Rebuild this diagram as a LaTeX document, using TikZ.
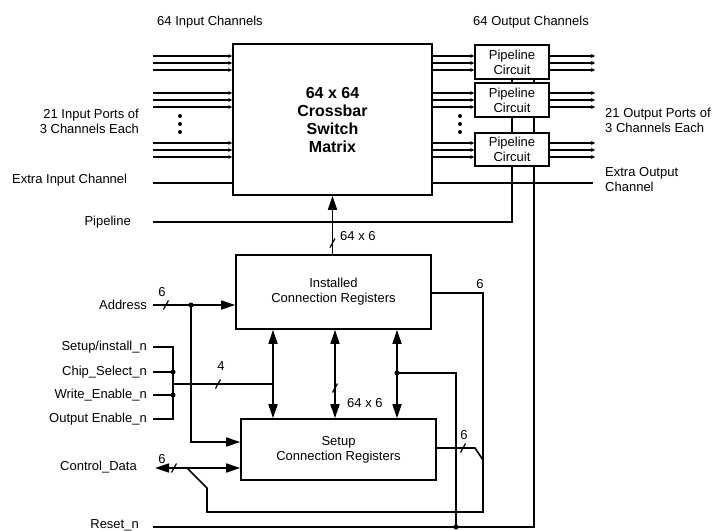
\documentclass[tikz,border=0pt]{standalone}
\usepackage{fontspec}
\setmainfont{Liberation Sans}
\usetikzlibrary{arrows.meta}
\tikzset{slashmark/.pic={\draw[line width=1.2pt] (-2.5,4.5) -- (2.5,-4.5);}}
\begin{document}
\begin{tikzpicture}[x=1pt,y=-1pt,
  every node/.style={font=\fontsize{13}{15}\selectfont, inner sep=0pt},
  box/.style={draw, line width=1.6pt, align=center},
  wire/.style={line width=1.6pt},
  chan/.style={line width=1.4pt, -{Stealth[length=4pt,width=4pt]}},
  bigarrow/.style={line width=1.6pt, -{Triangle[length=14pt,width=9pt]}},
  bothbig/.style={line width=1.6pt, {Triangle[length=14pt,width=9pt]}-{Triangle[length=14pt,width=9pt]}},
  jdot/.style={circle, fill, inner sep=0pt, minimum size=5pt},
  lbl/.style={align=left}
]
\useasboundingbox (0,0) rectangle (728,530);

% ---- blocks
\node[box, minimum width=199pt, minimum height=151pt, font=\bfseries\fontsize{16}{18}\selectfont] (cb) at (332.5,119.5) {64 x 64\\Crossbar\\Switch\\Matrix};
\node[box, minimum width=74pt, minimum height=34pt] (p1) at (512,62) {Pipeline\\Circuit};
\node[box, minimum width=74pt, minimum height=34pt] (p2) at (512,100) {Pipeline\\Circuit};
\node[box, minimum width=74pt, minimum height=33pt] (p3) at (512,149.5) {Pipeline\\Circuit};
\node[box, minimum width=195pt, minimum height=74pt] (inst) at (333.5,292) {Installed\\Connection Registers};
\node[box, minimum width=195pt, minimum height=61pt] (sreg) at (338.5,449.5) {Setup\\Connection Registers};

% ---- texts
\node[anchor=west] (tin) at (157,22) {64 Input Channels};
\node[anchor=west] (tout) at (473,22) {64 Output Channels};
\node[anchor=east, align=right] (tinp) at (139,121) {21 Input Ports of\\3 Channels Each};
\node[anchor=west, align=left] (toutp) at (605,120) {21 Output Ports of\\3 Channels Each};
\node[anchor=west] (tei) at (12,180) {Extra Input Channel};
\node[anchor=west, align=left] (teo) at (605,180) {Extra Output\\Channel};
\node[anchor=east] (tpl) at (131,222) {Pipeline};
\node[anchor=east] (tad) at (147,305) {Address};
\node[anchor=east] (tsu) at (147,347) {Setup/install\_n};
\node[anchor=east] (tcs) at (147,372) {Chip\_Select\_n};
\node[anchor=east] (twe) at (147,395) {Write\_Enable\_n};
\node[anchor=east] (toe) at (147,419) {Output Enable\_n};
\node[anchor=east] (tcd) at (137,467) {Control\_Data};
\node[anchor=east] (trs) at (139,525) {Reset\_n};

% ---- channel lines
\foreach \y/\p in {56/p1,63/p1,70/p1,93/p2,100/p2,107/p2,143/p3,150/p3,157/p3} {
  \coordinate (in\y) at (153,\y);
  \coordinate (out\y) at (595,\y);
  \draw[chan] (in\y) -- (in\y -| cb.west);
  \draw[chan] (cb.east |- in\y) -- (\p.west |- in\y);
  \draw[chan] (\p.east |- in\y) -- (out\y);
}
\foreach \y in {116,124,132} {
  \fill (180,\y) circle (2);
  \fill (460,\y) circle (2);
}

% ---- extra channels
\coordinate (ei) at (153,183);
\coordinate (eo) at (593,183);
\draw[wire] (ei) -- (ei -| cb.west);
\draw[wire] (cb.east |- ei) -- (eo);

% ---- pipeline control and reset verticals
\coordinate (pl) at (153,222);
\coordinate (pj) at (512,222);
\coordinate (rb) at (534,527);
\coordinate (rs) at (153,527);
\draw[wire] (pl) -- (pj) -- (p3.south -| pj);
\draw[wire] (p2.south -| pj) -- (p3.north -| pj);
\draw[wire] (p1.south -| pj) -- (p2.north -| pj);
\draw[wire] (rs) -- (rb) -- (p3.south -| rb);
\draw[wire] (p2.south -| rb) -- (p3.north -| rb);
\draw[wire] (p1.south -| rb) -- (p2.north -| rb);

% ---- installed -> crossbar
\draw[bigarrow] (cb.south |- inst.north) -- (cb.south);
\pic at (332.5,243) {slashmark};
\node[anchor=west] (l64a) at (340,236) {64 x 6};

% ---- address
\coordinate (addr) at (153,305);
\node[jdot] (adj) at (191,305) {};
\coordinate (adc) at (191,442);
\draw[bigarrow] (addr) -- (addr -| inst.west);
\draw[bigarrow] (adj.center) -- (adc) -- (adc -| sreg.west);
\pic at (166,305) {slashmark};
\node (l6a) at (162,292) {6};

% ---- control signals
\coordinate (su) at (153,347);
\coordinate (cs) at (153,372);
\coordinate (we) at (153,395);
\coordinate (oe) at (153,419);
\coordinate (bt) at (173,347);
\coordinate (bb) at (173,419);
\draw[wire] (su) -- (bt) -- (bb) -- (oe);
\node[jdot] (csj) at (173,372) {};
\node[jdot] (wej) at (173,395) {};
\draw[wire] (cs) -- (csj.center);
\draw[wire] (we) -- (wej.center);
\coordinate (bus0) at (173,384);
\coordinate (x1) at (273,384);
\draw[wire] (bus0) -- (x1);
\pic at (218,384) {slashmark};
\node (l4) at (221,366) {4};

% ---- register exchange arrows
\coordinate (x2) at (335,388);
\node[jdot] (x3) at (397,373) {};
\draw[bothbig] (inst.south -| x1) -- (sreg.north -| x1);
\draw[bothbig] (inst.south -| x2) -- (sreg.north -| x2);
\draw[bothbig] (inst.south -| x3) -- (sreg.north -| x3);
\pic at (335,388) {slashmark};
\node[anchor=west] (l64b) at (347,403) {64 x 6};
\coordinate (x3r) at (456,373);
\node[jdot] (rsj) at (456,527) {};
\draw[wire] (x3.center) -- (x3r) -- (rsj.center);

% ---- loop from installed registers
\coordinate (r0) at (431,293);
\coordinate (r1) at (483,293);
\coordinate (r2) at (483,512);
\coordinate (l2) at (207,512);
\coordinate (l1) at (207,488);
\coordinate (cdj) at (187,468);
\draw[wire] (inst.east |- r0) -- (r1) -- (r2) -- (l2) -- (l1) -- (cdj);
\node (l6b) at (480,284) {6};

% ---- setup output
\coordinate (so) at (436,448);
\coordinate (sk) at (475,448);
\coordinate (sj) at (483,460);
\draw[wire] (sreg.east |- so) -- (sk) -- (sj);
\pic at (463,448) {slashmark};
\node (l6c) at (464,435) {6};

% ---- control data
\coordinate (cd) at (155,468);
\draw[bothbig] (cd) -- (cd -| sreg.west);
\pic at (174,468) {slashmark};
\node (l6d) at (162,459) {6};
\end{tikzpicture}
\end{document}
